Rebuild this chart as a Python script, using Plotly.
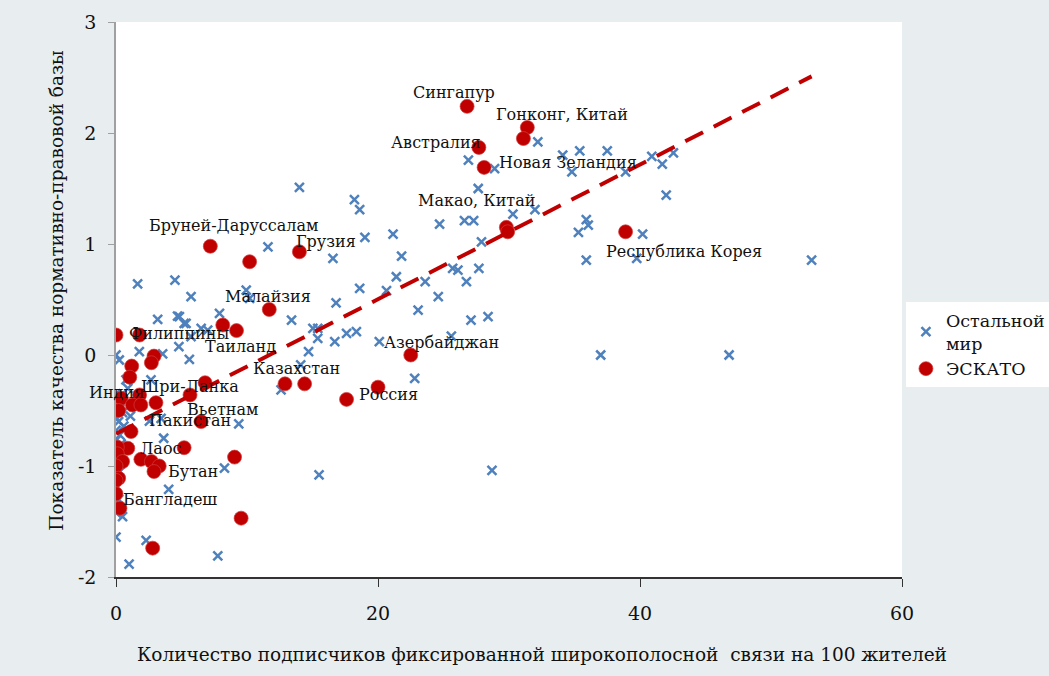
import plotly.graph_objects as go

# ---- data: ESCAP members (red) ----
escap_x = [26.8, 31.4, 31.1, 27.7, 28.1, 29.8, 29.9, 38.9, 7.2, 10.2, 14.0, 11.7, 8.15, 9.2,
           0.0, 1.8, 2.9, 2.7, 1.2, 1.05, 6.8, 5.65, 3.05, 1.8, 0.4, 1.25, 1.9, 12.9, 14.4,
           22.5, 20.0, 17.6, 6.5, 1.15, 0.9, 0.1, 0.1, 5.2, 9.05, 1.9, 2.7, 0.5, 3.3, 2.9,
           0.0, 0.2, 0.0, 0.0, 0.3, 9.55, 2.8, 0.2]
escap_y = [2.24, 2.05, 1.95, 1.87, 1.69, 1.15, 1.11, 1.11, 0.98, 0.84, 0.93, 0.41, 0.27, 0.22,
           0.18, 0.18, -0.01, -0.07, -0.10, -0.20, -0.25, -0.36, -0.43, -0.36, -0.39, -0.45, -0.45, -0.26, -0.26,
           0.0, -0.29, -0.40, -0.60, -0.69, -0.84, -0.83, -0.89, -0.835, -0.92, -0.94, -0.96, -0.96, -1.0, -1.05,
           -1.0, -1.11, -1.13, -1.25, -1.38, -1.47, -1.74, -0.50]
escap_names = ["Сингапур", "Гонконг, Китай", "", "Австралия", "Новая Зеландия", "Макао, Китай", "",
               "Республика Корея", "Бруней-Даруссалам", "", "Грузия", "Малайзия", "Таиланд", "",
               "Филиппины", "", "", "", "", "", "", "Шри-Ланка", "", "", "Индия", "", "", "Казахстан", "",
               "Азербайджан", "", "Россия", "Вьетнам", "Пакистан", "Лаос", "", "", "", "", "", "", "", "", "Бутан",
               "", "", "", "", "Бангладеш", "", "", ""]

# ---- data: rest of the world (blue x) ----
rest_x = [14.0, 18.2, 18.6, 11.6, 19.0, 21.15, 16.56, 21.8, 21.4, 18.6, 20.65, 16.8, 23.06, 9.94, 10.2,
          5.73, 7.9, 13.4, 15.03, 15.4, 4.84, 5.2, 15.4, 16.7, 17.6, 18.35, 23.6,
          25.7, 26.1, 27.7, 26.75, 24.6, 27.1, 28.4, 25.6, 20.1, 22.8, 14.7, 14.1,
          32.2, 26.9, 34.1, 35.4, 37.5, 34.8, 28.9, 27.65, 40.9, 41.7, 42.55, 38.9, 42.0, 30.3, 31.98,
          24.7, 26.6, 27.3, 27.9, 35.9, 36.05, 35.3, 40.2, 35.9, 39.75, 53.1, 37.0, 46.8,
          28.7, 15.5,
          3.64, 8.28, 4.02, 0.5, 0.0, 2.3, 7.77, 1.0, 9.37,
          1.65, 4.5, 3.18, 4.7, 5.35, 1.78, 3.56, 5.6, 4.8, 5.73, 6.5, 7.0, 0.0, 0.25, 0.76, 2.67, 3.44, 2.55, 12.6,
          0.0, 0.3, 0.1, 0.5, 0.0, 0.2, 0.6, 0.0, 0.3, 0.0, 0.4, 0.1, 0.0, 0.3, 0.0, 0.2, 0.0, 1.1, 0.9]
rest_y = [1.51, 1.40, 1.31, 0.975, 1.06, 1.09, 0.87, 0.89, 0.705, 0.60, 0.58, 0.47, 0.405, 0.585, 0.51,
          0.525, 0.375, 0.315, 0.24, 0.24, 0.345, 0.285, 0.15, 0.12, 0.195, 0.21, 0.66,
          0.78, 0.765, 0.78, 0.66, 0.525, 0.315, 0.345, 0.17, 0.12, -0.21, 0.03, -0.09,
          1.92, 1.755, 1.80, 1.84, 1.84, 1.65, 1.68, 1.50, 1.79, 1.72, 1.82, 1.65, 1.44, 1.27, 1.31,
          1.18, 1.21, 1.21, 1.02, 1.22, 1.17, 1.105, 1.09, 0.855, 0.87, 0.855, 0.0, 0.0,
          -1.04, -1.08,
          -0.75, -1.02, -1.21, -1.455, -1.64, -1.67, -1.81, -1.885, -0.62,
          0.64, 0.675, 0.32, 0.35, 0.285, 0.03, 0.01, -0.04, 0.075, 0.165, 0.24, 0.225, 0.0, -0.045, -0.225, -0.225, -0.57, -0.595, -0.315,
          -0.35, -0.42, -0.48, -0.52, -0.56, -0.60, -0.64, -0.68, -0.72, -0.77, -0.80, -0.86, -0.92, -1.05, -1.18, -1.30, -1.42, -0.55, -0.30]

# ---- trend line ----
trend_x = [0.0, 53.1]
trend_y = [-0.71, 2.51]

x_ticks = [0, 20, 40, 60]
y_ticks = [-2, -1, 0, 1, 2, 3]
y_tick_text = ["-2", "-1", "0", "1", "2", "3"]

FONT = "DejaVu Serif"
BG = "#e8eeef"

# label offsets in pixels: (left edge dx, center dy downward)
label_off = {
    "Сингапур": (-56, -14), "Гонконг, Китай": (-33, -13), "Австралия": (-90, -5),
    "Новая Зеландия": (13, -5), "Макао, Китай": (-90, -27), "Республика Корея": (-22, 20),
    "Бруней-Даруссалам": (-63, -21), "Грузия": (-5, -10), "Малайзия": (-46, -13),
    "Филиппины": (11, -2), "Таиланд": (-20, 21), "Казахстан": (-34, -15),
    "Азербайджан": (-29, -13), "Россия": (10, -5), "Индия": (-34, -6),
    "Шри-Ланка": (-51, -8), "Вьетнам": (-16, -12), "Пакистан": (16, -11),
    "Лаос": (10, 0), "Бутан": (12, 0), "Бангладеш": (1, -9),
}

fig = go.Figure()
fig.add_trace(go.Scatter(
    x=rest_x, y=rest_y, mode="markers", name="Остальной<br>мир",
    marker=dict(symbol="x-thin", size=9, line=dict(width=2.5, color="#4f81bd"), color="#4f81bd"),
))
fig.add_trace(go.Scatter(
    x=escap_x, y=escap_y, mode="markers", name="ЭСКАТО",
    marker=dict(symbol="circle", size=14, color="#c00000", line=dict(width=1, color="rgba(210,60,60,0.7)")),
))
fig.add_trace(go.Scatter(
    x=trend_x, y=trend_y, mode="lines", showlegend=False,
    line=dict(color="#c00000", width=4, dash="20px,12px"),
))

for xv, yv, nm in zip(escap_x, escap_y, escap_names):
    if not nm:
        continue
    dx, dy = label_off[nm]
    fig.add_annotation(x=xv, y=yv, text=nm, showarrow=False, xanchor="left", yanchor="middle",
                       xshift=dx, yshift=-dy, font=dict(family=FONT, size=16, color="#111"))

fig.add_annotation(xref="paper", yref="paper", x=0.542, y=-0.14, showarrow=False,
                   text="Количество подписчиков фиксированной широкополосной  связи на 100 жителей",
                   font=dict(family=FONT, size=18.5, color="#111"), xanchor="center", yanchor="middle")
fig.add_annotation(xref="paper", yref="paper", x=-0.075, y=0.516, showarrow=False, textangle=-90,
                   text="Показатель качества нормативно-правовой базы",
                   font=dict(family=FONT, size=18.5, color="#111"), xanchor="center", yanchor="middle")

fig.update_layout(
    width=1049, height=676,
    margin=dict(l=116, r=147, t=22, b=99, autoexpand=False),
    paper_bgcolor=BG, plot_bgcolor="#ffffff",
    font=dict(family=FONT, size=18, color="#111"),
    showlegend=True,
    legend=dict(x=1.005, y=0.495, xanchor="left", yanchor="top", bgcolor="#ffffff",
                font=dict(family=FONT, size=17.5, color="#111"), tracegroupgap=0,
                itemwidth=30),
    xaxis=dict(range=[0, 60], tickvals=x_ticks, showgrid=False, zeroline=False, automargin=False,
               showline=True, linecolor="#333333", linewidth=1.5, ticks="outside", ticklen=8,
               tickcolor="#333333", ticklabelstandoff=10, tickfont=dict(size=19)),
    yaxis=dict(range=[-2, 3], tickvals=y_ticks, ticktext=y_tick_text, showgrid=False, zeroline=False,
               automargin=False,
               showline=True, linecolor="#a0a0a0", linewidth=1.5, ticks="outside", ticklen=6,
               tickcolor="#a0a0a0", ticklabelstandoff=8, tickfont=dict(size=19)),
)

fig.write_html(
    "out.html",
    config={"displayModeBar": False},
    post_script="document.body.style.margin='0';document.body.style.background='" + BG + "';",
)
